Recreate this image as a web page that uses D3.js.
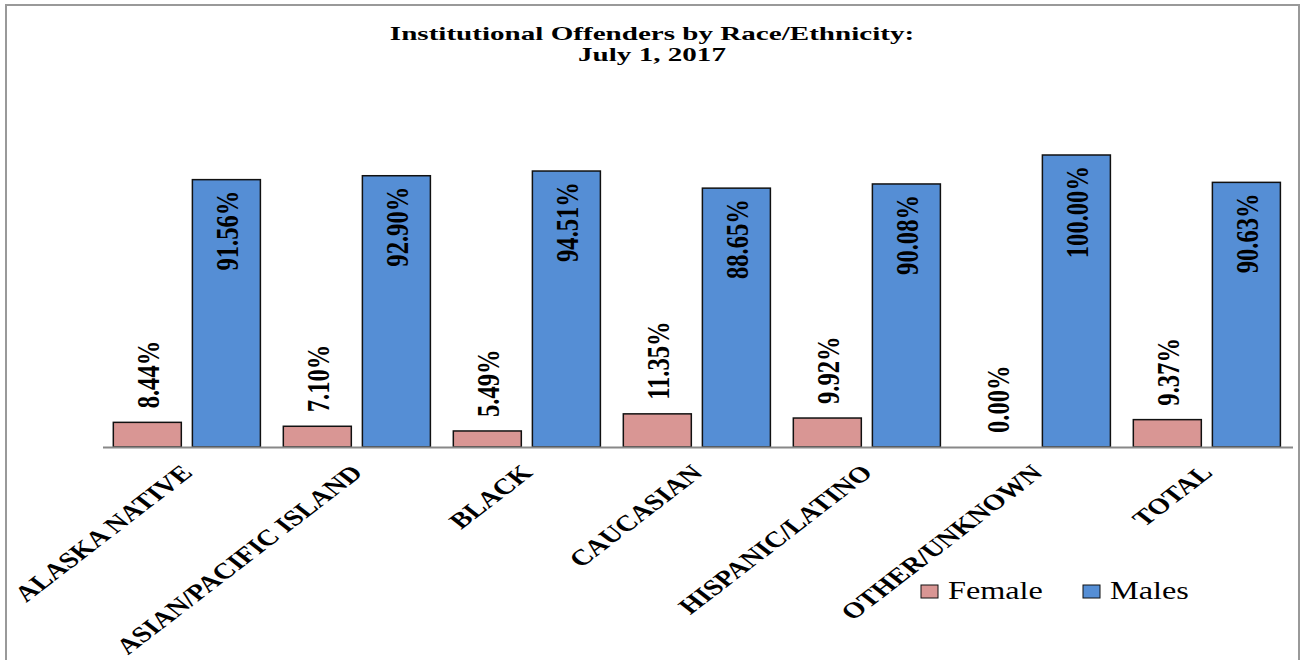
<!DOCTYPE html>
<html>
<head>
<meta charset="utf-8">
<script src="https://cdn.jsdelivr.net/npm/d3@7"></script>
<style>
  body { margin: 0; background: #fff; }
  svg { display: block; }
</style>
</head>
<body>
<svg id="chart" width="1303" height="660"></svg>
<script>
// chart values
var categories = ["ALASKA NATIVE", "ASIAN/PACIFIC ISLAND", "BLACK", "CAUCASIAN",
                  "HISPANIC/LATINO", "OTHER/UNKNOWN", "TOTAL"];
var female = [8.44, 7.10, 5.49, 11.35, 9.92, 0.00, 9.37];
var males = [91.56, 92.90, 94.51, 88.65, 90.08, 100.00, 90.63];
var seriesNames = ["Female", "Males"];
var titleLines = ["Institutional Offenders by Race/Ethnicity:", "July 1, 2017"];

var svg = d3.select("#chart"),
    stretch = "scale(1.3,1)",   // the picture is wider than it is tall, text too
    serif = "'Liberation Serif', 'Times New Roman', serif",
    colors = {Female: "#D99694", Males: "#558ED5"};

var x0 = d3.scaleBand().domain(categories).range([103, 1293]),
    x1 = d3.scaleBand().domain(seriesNames).range([0, x0.bandwidth()])
        .paddingInner(0.14).paddingOuter(0.145).align(0.45),
    y = d3.scaleLinear().domain([0, 100]).range([447, 155]);

// outer frame
svg.append("rect")
    .attr("x", 6).attr("y", 5).attr("width", 1293).attr("height", 670)
    .attr("fill", "none").attr("stroke", "#999").attr("stroke-width", 2);

// title
svg.selectAll("text.title").data(titleLines).enter().append("text")
    .attr("class", "title")
    .attr("transform", function (d, i) { return "translate(652," + (40 + i * 21) + ") scale(1.47,1)"; })
    .attr("text-anchor", "middle")
    .style("font-family", serif).style("font-weight", "bold").style("font-size", "19.8px")
    .text(function (d) { return d; });

var rows = categories.map(function (c, i) {
    return {cat: c, values: [{key: "Female", v: female[i]}, {key: "Males", v: males[i]}]};
});

var groups = svg.selectAll("g.grp").data(rows).enter().append("g")
    .attr("class", "grp")
    .attr("transform", function (d) { return "translate(" + x0(d.cat) + ",0)"; });

groups.selectAll("rect").data(function (d) { return d.values.filter(function (e) { return e.v > 0; }); })
    .enter().append("rect")
    .attr("x", function (d) { return x1(d.key); })
    .attr("y", function (d) { return y(d.v); })
    .attr("width", x1.bandwidth())
    .attr("height", function (d) { return y(0) - y(d.v); })
    .attr("fill", function (d) { return colors[d.key]; })
    .attr("stroke", "#111").attr("stroke-width", 1.5);

// value labels, vertical: female above the bar, males inside the top
groups.selectAll("text").data(function (d) { return d.values; })
    .enter().append("text")
    .attr("transform", function (d) {
        var cx = x1(d.key) + x1.bandwidth() / 2,
            ty = d.key == "Female" ? y(d.v) - 14 : y(d.v) + 11;
        return "translate(" + cx + "," + ty + ") " + stretch + " rotate(-90)";
    })
    .attr("dy", "0.35em")
    .attr("text-anchor", function (d) { return d.key == "Female" ? "start" : "end"; })
    .style("font-family", serif).style("font-weight", "bold").style("font-size", "24.6px")
    .text(function (d) { return d.v.toFixed(2) + "%"; });

// category axis
svg.append("line")
    .attr("x1", x0.range()[0]).attr("x2", x0.range()[1])
    .attr("y1", y(0) + 0.5).attr("y2", y(0) + 0.5)
    .attr("stroke", "#888").attr("stroke-width", 2);

svg.selectAll("text.cat").data(categories).enter().append("text")
    .attr("class", "cat")
    .attr("transform", function (d) {
        return "translate(" + (x0(d) + x0.bandwidth() / 2 + 6) + ",474) " + stretch + " rotate(-45)";
    })
    .attr("text-anchor", "end")
    .style("font-family", serif).style("font-weight", "bold").style("font-size", "22.3px")
    .text(function (d) { return d; });

// legend
var legend = svg.selectAll("g.leg").data(seriesNames).enter().append("g")
    .attr("class", "leg")
    .attr("transform", function (d, i) { return "translate(" + (921 + i * 162) + ",585)"; });
legend.append("rect")
    .attr("width", 17).attr("height", 13)
    .attr("fill", function (d) { return colors[d]; })
    .attr("stroke", "#111").attr("stroke-width", 1);
legend.append("text")
    .attr("transform", "translate(27,14) " + stretch)
    .style("font-family", serif).style("font-size", "24.8px")
    .text(function (d) { return d; });
</script>
</body>
</html>
